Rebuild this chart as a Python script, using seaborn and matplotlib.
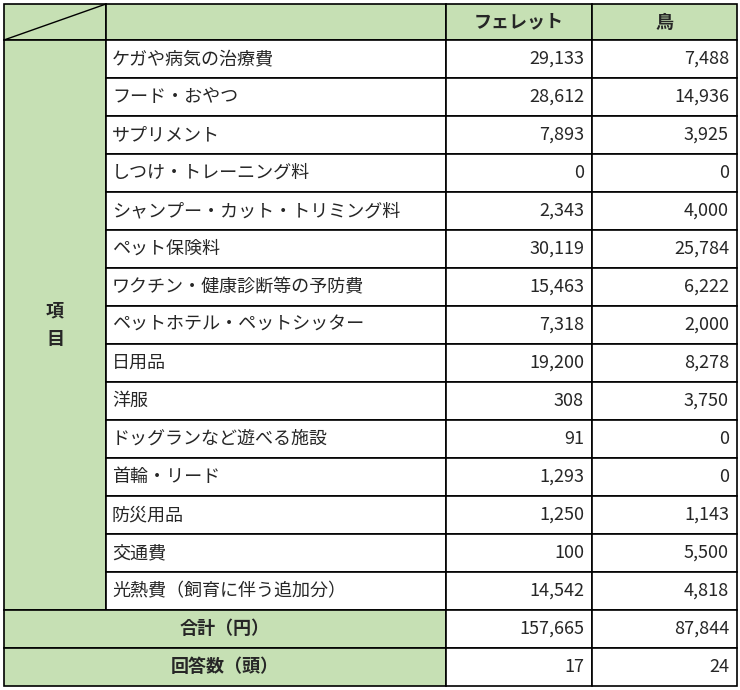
import matplotlib
matplotlib.use("Agg")
import matplotlib.pyplot as plt
import seaborn as sns
from matplotlib.patches import Rectangle

sns.set_theme(style="white")
plt.rcParams["font.family"] = "Noto Sans CJK JP"

columns = ["フェレット", "鳥"]
items = ["ケガや病気の治療費", "フード・おやつ", "サプリメント", "しつけ・トレーニング料",
         "シャンプー・カット・トリミング料", "ペット保険料", "ワクチン・健康診断等の予防費",
         "ペットホテル・ペットシッター", "日用品", "洋服", "ドッグランなど遊べる施設",
         "首輪・リード", "防災用品", "交通費", "光熱費（飼育に伴う追加分）"]
ferret = [29133, 28612, 7893, 0, 2343, 30119, 15463, 7318, 19200, 308, 91, 1293, 1250, 100, 14542]
bird = [7488, 14936, 3925, 0, 4000, 25784, 6222, 2000, 8278, 3750, 0, 0, 1143, 5500, 4818]
total_label = "合計（円）"
totals = [157665, 87844]
count_label = "回答数（頭）"
counts = [17, 24]

G = "#c6e0b4"
fig = plt.figure(figsize=(7.4, 6.9), dpi=100)
ax = fig.add_axes([0, 0, 1, 1])
ax.set_xlim(0, 740); ax.set_ylim(690, 0); ax.axis("off")

xs = [4, 106, 446, 592, 737]
y0, hh, rh = 4, 36, 38
fs = 13

def cell(x1, y1, x2, y2, fc):
    ax.add_patch(Rectangle((x1, y1), x2 - x1, y2 - y1, facecolor=fc, edgecolor="black", lw=1.2))

# header
for i in range(4):
    cell(xs[i], y0, xs[i + 1], y0 + hh, G)
ax.plot([xs[0], xs[1]], [y0 + hh, y0], color="black", lw=1)
for j, c in enumerate(columns):
    ax.text((xs[2 + j] + xs[3 + j]) / 2, y0 + hh / 2, c, ha="center", va="center", fontsize=fs, fontweight="bold")

top = y0 + hh
bot = top + rh * len(items)
cell(xs[0], top, xs[1], bot, G)
ax.text((xs[0] + xs[1]) / 2, (top + bot) / 2, "項\n目", ha="center", va="center", fontsize=fs, fontweight="bold", linespacing=1.6)
for i, name in enumerate(items):
    y = top + i * rh
    for k in range(1, 4):
        cell(xs[k], y, xs[k + 1], y + rh, "white")
    ax.text(xs[1] + 6, y + rh / 2, name, ha="left", va="center", fontsize=fs)
    ax.text(xs[3] - 8, y + rh / 2, f"{ferret[i]:,}", ha="right", va="center", fontsize=fs)
    ax.text(xs[4] - 8, y + rh / 2, f"{bird[i]:,}", ha="right", va="center", fontsize=fs)

for r, (lab, vals) in enumerate([(total_label, totals), (count_label, counts)]):
    y = bot + r * rh
    cell(xs[0], y, xs[2], y + rh, G)
    cell(xs[2], y, xs[3], y + rh, "white")
    cell(xs[3], y, xs[4], y + rh, "white")
    ax.text((xs[0] + xs[2]) / 2, y + rh / 2, lab, ha="center", va="center", fontsize=fs, fontweight="bold")
    ax.text(xs[3] - 8, y + rh / 2, f"{vals[0]:,}", ha="right", va="center", fontsize=fs)
    ax.text(xs[4] - 8, y + rh / 2, f"{vals[1]:,}", ha="right", va="center", fontsize=fs)

fig.savefig("out.png", dpi=100, facecolor="white")
